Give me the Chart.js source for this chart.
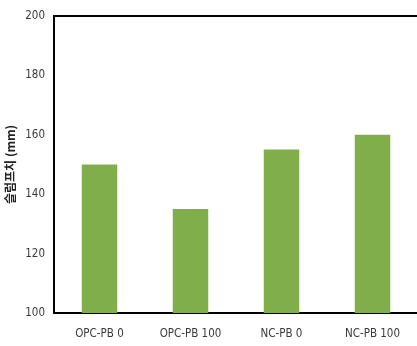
<!DOCTYPE html>
<html>
<head>
<meta charset="utf-8">
<script src="https://cdn.jsdelivr.net/npm/chart.js@4"></script>
<style>
    html, body { margin: 0; padding: 0; background: #fff; overflow: hidden; }
    #wrap { width: 420px; height: 346px; }
</style>
</head>
<body>
<div id="wrap"><canvas id="slumpChart" width="420" height="346"></canvas></div>
<script>
// slump per mix
const mixes = ['OPC-PB 0', 'OPC-PB 100', 'NC-PB 0', 'NC-PB 100'];
const slump = [150, 135, 155, 160];
const yTicks = [100, 120, 140, 160, 180, 200];

const tickFont = { family: "'DejaVu Sans Condensed', 'DejaVu Sans', sans-serif", size: 11.5 };

const ctx = document.getElementById('slumpChart').getContext('2d');

new Chart(ctx, {
    type: 'bar',
    data: {
        labels: mixes,
        datasets: [{
            data: slump,
            backgroundColor: '#80ae4a',
            borderWidth: 0,
            barPercentage: 0.39,
            categoryPercentage: 1
        }]
    },
    options: {
        responsive: false,
        animation: false,
        layout: { padding: { top: 13, right: 2, left: 3, bottom: 0 } },
        plugins: {
            legend: { display: false },
            tooltip: { enabled: false }
        },
        scales: {
            x: {
                grid: { display: false, drawTicks: false },
                border: { display: true, color: '#000', width: 2 },
                ticks: { color: '#3a3a3a', font: tickFont, padding: 14 },
                afterFit: (axis) => { axis.height = 33; }
            },
            y: {
                min: 100,
                max: 200,
                afterBuildTicks: (axis) => { axis.ticks = yTicks.map(v => ({ value: v })); },
                grid: {
                    drawTicks: false,
                    // only the top edge of the frame is drawn
                    color: (c) => c.tick && c.tick.value === 200 ? '#000' : 'rgba(0,0,0,0)',
                    lineWidth: 2
                },
                border: { display: true, color: '#000', width: 2 },
                ticks: { color: '#3a3a3a', font: tickFont, padding: 9 },
                title: {
                    display: true,
                    text: '슬럼프치 (mm)',
                    color: '#222',
                    font: { family: "'Noto Sans CJK KR', sans-serif", size: 12, weight: 'bold' },
                    padding: 0
                },
                afterFit: (axis) => { axis.width = 51; }
            }
        }
    }
});
</script>
</body>
</html>
